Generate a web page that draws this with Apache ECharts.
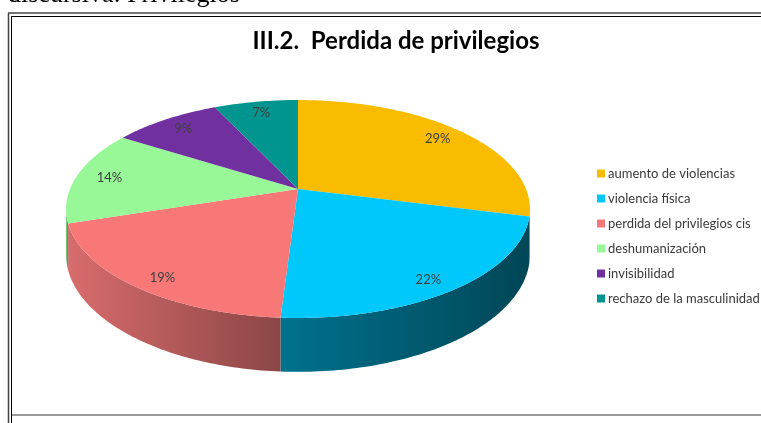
<!DOCTYPE html>
<html>
<head>
<meta charset="utf-8">
<script src="https://cdn.jsdelivr.net/npm/echarts@6/dist/echarts.min.js"></script>
<style>
  html, body { margin: 0; padding: 0; background: #fff; }
  #main { width: 761px; height: 423px; }
</style>
</head>
<body>
<div id="main"></div>
<script>
// datos del grafico
var categories = ['aumento de violencias', 'violencia física', 'perdida del privilegios cis',
                  'deshumanización', 'invisibilidad', 'rechazo de la masculinidad'];
var values = [29, 22, 19, 14, 9, 7];
var colors = ['#F9BC00', '#00C8FA', '#F87878', '#98F898', '#7030A0', '#00968F'];
var sideColors = [['#C49400', '#8A6800'], ['#00728E', '#004656'], ['#D86C6C', '#8C4646'],
                  ['#78C878', '#4E8A4E'], ['#58267E', '#3A1854'], ['#007872', '#00504C']];

// geometria del pastel 3D (perspectiva)
var CX = 298, CY = 189, RA = 228, RB = 105.3, K = 0.1835, H = 44;
var total = values.reduce(function (s, v) { return s + v; }, 0);
var starts = [];
var acc = 0;
for (var i = 0; i < values.length; i++) { starts.push(acc); acc += values[i]; }

function proj(phi, r) {
    var u = r * Math.sin(phi), v = -r * Math.cos(phi);
    var d = 1 - K * v;
    return [CX + RA * u / d, CY + RB * v / d, d];
}

function arc(a0, a1, r, down) {
    var pts = [];
    var n = Math.max(2, Math.ceil(Math.abs(a1 - a0) / (Math.PI / 180)));
    for (var j = 0; j <= n; j++) {
        var p = proj(a0 + (a1 - a0) * j / n, r);
        pts.push(down ? [p[0], p[1] + H / p[2]] : [p[0], p[1]]);
    }
    return pts;
}

var sideL = Math.acos(-K), sideR = 2 * Math.PI - Math.acos(-K);

function makeRender(idx) {
    return function (params, api) {
        var s = api.value(0) / total * 2 * Math.PI;
        var e = (api.value(0) + api.value(1)) / total * 2 * Math.PI;
        var children = [];
        var s2 = Math.max(s, sideL), e2 = Math.min(e, sideR);
        if (e2 > s2) {
            var pts = arc(s2, e2, 1, false).concat(arc(s2, e2, 1, true).reverse());
            children.push({
                type: 'polygon',
                shape: { points: pts },
                style: {
                    fill: new echarts.graphic.LinearGradient(0, 0, 1, 0, [
                        { offset: 0, color: sideColors[idx][0] },
                        { offset: 1, color: sideColors[idx][1] }
                    ])
                }
            });
        }
        var top = [[CX, CY]].concat(arc(s, e, 1, false));
        children.push({
            type: 'polygon',
            shape: { points: top },
            style: { fill: colors[idx] }
        });
        var m = (s + e) / 2;
        var lp = proj(m, 0.85);
        var vv = -Math.cos(m) * 0.85;
        children.push({
            type: 'text',
            x: lp[0],
            y: lp[1] + (vv > 0 ? 12 * vv : 0),
            style: {
                text: api.value(1) + '%',
                fill: '#404040',
                font: '13px Lato',
                align: 'center',
                verticalAlign: 'middle'
            }
        });
        return { type: 'group', children: children };
    };
}

var series = [];
for (var i = 0; i < values.length; i++) {
    series.push({
        name: categories[i],
        type: 'custom',
        coordinateSystem: 'none',
        itemStyle: { color: colors[i] },
        renderItem: makeRender(i),
        data: [[starts[i], values[i]]],
        animation: false
    });
}

var chart = echarts.init(document.getElementById('main'));
var option = {
    backgroundColor: '#fff',
    animation: false,
    title: {
        text: 'III.2.  Perdida de privilegios',
        left: 391,
        top: 24,
        textAlign: 'center',
        textStyle: { fontFamily: 'Lato', fontWeight: 'bold', fontSize: 24, color: '#000' }
    },
    legend: {
        orient: 'vertical',
        left: 592,
        top: 162,
        icon: 'rect',
        itemWidth: 8,
        itemHeight: 8,
        itemGap: 12,
        textStyle: { fontFamily: 'Lato', fontSize: 13, color: '#3a3a3a', padding: [0, 0, 0, -2] },
        data: categories
    },
    graphic: [
        { type: 'text', x: 8, y: 8, style: { text: 'discursiva: Privilegios', font: '26px "Liberation Serif"', fill: '#000', verticalAlign: 'bottom' } },
        { type: 'line', shape: { x1: 8, y1: 13, x2: 761, y2: 13 }, style: { stroke: '#444', lineWidth: 1.5 } },
        { type: 'line', shape: { x1: 11, y1: 16.5, x2: 761, y2: 16.5 }, style: { stroke: '#000', lineWidth: 1 } },
        { type: 'line', shape: { x1: 8.5, y1: 13, x2: 8.5, y2: 423 }, style: { stroke: '#444', lineWidth: 1.5 } },
        { type: 'line', shape: { x1: 11.5, y1: 16, x2: 11.5, y2: 423 }, style: { stroke: '#000', lineWidth: 1 } },
        { type: 'line', shape: { x1: 12, y1: 415, x2: 761, y2: 415 }, style: { stroke: '#9a9a9a', lineWidth: 2 } }
    ],
    series: series
};
chart.setOption(option);
</script>
</body>
</html>
